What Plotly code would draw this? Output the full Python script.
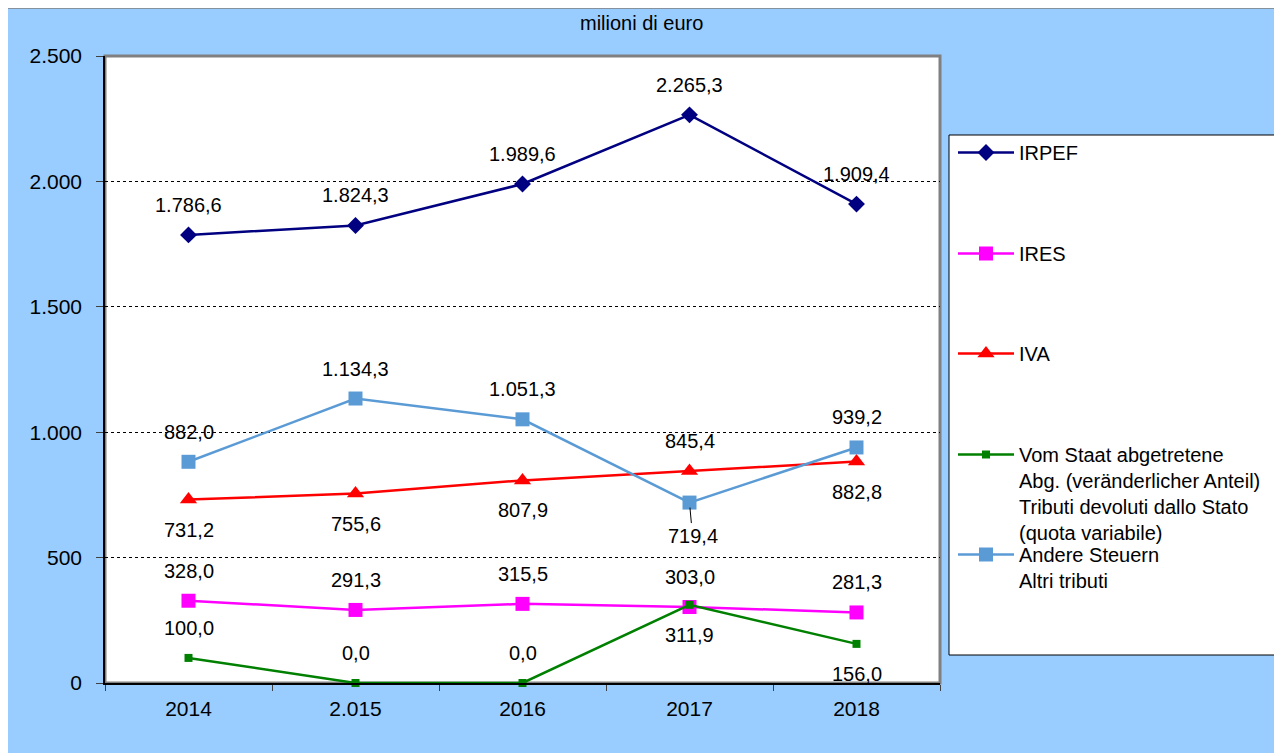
import plotly.graph_objects as go

# ---------------- data ----------------
years = ["2014", "2.015", "2016", "2017", "2018"]
irpef = [1786.6, 1824.3, 1989.6, 2265.3, 1909.4]
ires = [328.0, 291.3, 315.5, 303.0, 281.3]
iva = [731.2, 755.6, 807.9, 845.4, 882.8]
devoluti = [100.0, 0.0, 0.0, 311.9, 156.0]
altri = [882.0, 1134.3, 1051.3, 719.4, 939.2]

series_names = [
    "IRPEF",
    "IRES",
    "IVA",
    "Vom Staat abgetretene<br>Abg. (veränderlicher Anteil)<br>Tributi devoluti dallo Stato<br>(quota variabile)",
    "Andere Steuern<br>Altri tributi",
]
y_ticks = [0, 500, 1000, 1500, 2000, 2500]
title_text = "milioni di euro"

# label placement (u = above, d = below)
label_pos = {
    0: ["u", "u", "u", "u", "u"],
    1: ["u", "u", "u", "u", "u"],
    2: ["d", "d", "d", "u", "d"],
    3: ["u", "u", "u", "d", "d"],
    4: ["u", "u", "u", "d", "u"],
}

# ---------------- geometry (reference pixel coords) ----------------
OFF = 8  # page body margin
W, H = 1282 - OFF, 753 - OFF
L, R, T, B = 105, 940, 56, 683  # plot area in reference pixels


def px(x):
    return (x - L) / (R - L)


def py(y):
    return (B - y) / (B - T)


FONT = "Liberation Sans, Arial, sans-serif"


def fmt(v):
    s = f"{v:,.1f}"
    return s.replace(",", "X").replace(".", ",").replace("X", ".")


colors = ["#000080", "#FF00FF", "#FF0000", "#008000", "#5B9BD5"]
symbols = ["diamond", "square", "triangle-up", "square", "square"]
sizes = [13, 14, 15, 8, 14]
data = [irpef, ires, iva, devoluti, altri]

fig = go.Figure()
legend_ids = ["legend", "legend2", "legend3", "legend4", "legend5"]
for i in range(5):
    fig.add_trace(
        go.Scatter(
            x=years,
            y=data[i],
            mode="lines+markers",
            name=series_names[i],
            line=dict(color=colors[i], width=2.5),
            marker=dict(symbol=symbols[i], size=sizes[i], color=colors[i]),
            cliponaxis=False,
            legend=legend_ids[i],
        )
    )

LABEL_FONT = dict(family=FONT, size=20, color="black")
annotations = []
for i in range(5):
    for j, v in enumerate(data[i]):
        pos = label_pos[i][j]
        if i == 4 and j == 3:
            annotations.append(
                dict(
                    x=j, y=v, text=fmt(v), showarrow=True, arrowhead=0,
                    arrowwidth=1, arrowcolor="black", ax=3, ay=33, standoff=5,
                    font=LABEL_FONT,
                )
            )
            continue
        annotations.append(
            dict(
                x=j, y=v, text=fmt(v), showarrow=False,
                yshift=30 if pos == "u" else -30,
                font=LABEL_FONT,
            )
        )

annotations.append(
    dict(
        x=px(641), y=py(10), xref="paper", yref="paper", text=title_text,
        showarrow=False, yanchor="top", xanchor="center",
        font=dict(family=FONT, size=20, color="black"),
    )
)

shapes = [
    # blue chart area
    dict(type="rect", xref="paper", yref="paper", x0=px(3), x1=px(1295),
         y0=py(770), y1=py(8), fillcolor="#99CCFF",
         line=dict(color="#7F7F7F", width=1.5), layer="below"),
    # plot area
    dict(type="rect", xref="paper", yref="paper", x0=0, x1=1, y0=0, y1=1,
         fillcolor="white", line=dict(color="#808080", width=3), layer="below"),
    # legend box
    dict(type="rect", xref="paper", yref="paper", x0=px(949), x1=px(1280),
         y0=py(655), y1=py(135), fillcolor="white",
         line=dict(color="black", width=1), layer="below"),
]

legend_centers = [152, 253, 353, 454, 554]
layout_legends = {}
for i, lid in enumerate(legend_ids):
    layout_legends[lid] = dict(
        x=px(953), y=py(legend_centers[i] - 19), xanchor="left", yanchor="top",
        bgcolor="rgba(0,0,0,0)", borderwidth=0, valign="top",
        font=dict(family=FONT, size=20, color="black"), itemwidth=56,
    )

fig.update_layout(
    width=W, height=H,
    margin=dict(l=L - OFF, r=1282 - R, t=T - OFF, b=753 - B, pad=0, autoexpand=False),
    paper_bgcolor="white",
    plot_bgcolor="white",
    separators=",.",
    showlegend=True,
    shapes=shapes,
    annotations=annotations,
    font=dict(family=FONT, size=20, color="black"),
    **layout_legends,
)

fig.update_xaxes(
    type="category", range=[-0.5, 4.5], showgrid=False, showline=True,
    linecolor="black", linewidth=1.5, ticks="outside", tickson="boundaries",
    ticklen=6, tickcolor="#404040", tickwidth=1, ticklabelstandoff=6,
    tickfont=dict(family=FONT, size=21, color="black"), zeroline=False,
)
fig.update_yaxes(
    range=[0, 2500], tickvals=y_ticks, tickformat=",d", showgrid=True,
    gridcolor="black", griddash="dot", gridwidth=1, showline=True,
    linecolor="black", linewidth=1.5, ticks="outside", ticklen=7,
    tickcolor="#404040", ticklabelstandoff=10, zeroline=False,
    tickfont=dict(family=FONT, size=21, color="black"),
)

fig.write_html("out.html")
